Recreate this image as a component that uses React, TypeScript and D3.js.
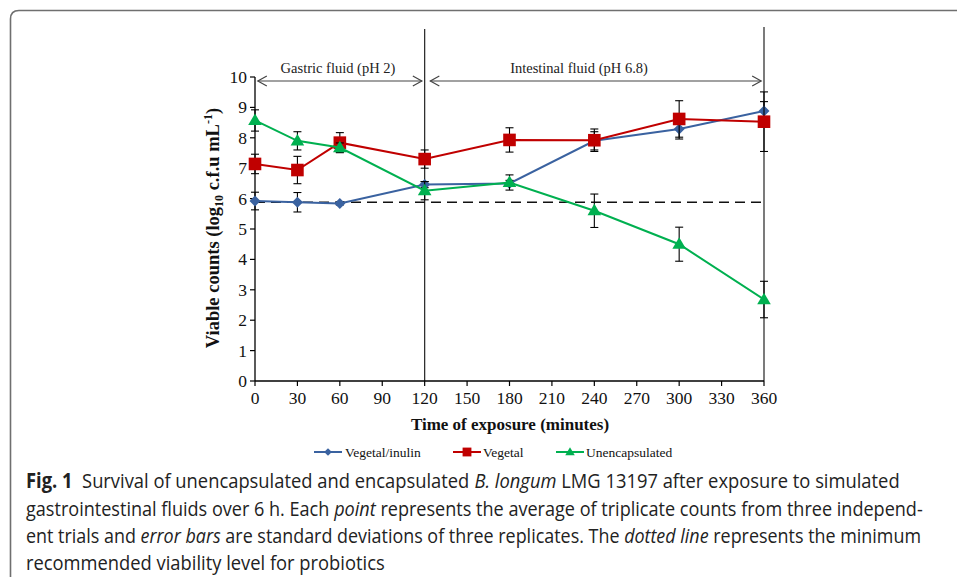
import React from "react";
import * as d3 from "d3";

const times = [0, 30, 60, 120, 180, 240, 300, 360];
const vegInulin = [5.92, 5.88, 5.84, 6.46, 6.5, 7.9, 8.29, 8.88];
const vegInulinSD = [0.29, 0.32, 0.05, 0.1, 0.1, 0.3, 0.33, 0.31];
const vegetal = [7.14, 6.94, 7.84, 7.3, 7.93, 7.92, 8.62, 8.53];
const vegetalSD = [0.32, 0.45, 0.33, 0.3, 0.4, 0.37, 0.6, 0.98];
const unencap = [8.57, 7.9, 7.68, 6.26, 6.53, 5.6, 4.5, 2.68];
const unencapSD = [0.35, 0.3, 0.15, 0.3, 0.25, 0.55, 0.56, 0.6];
const xTicks = [0, 30, 60, 90, 120, 150, 180, 210, 240, 270, 300, 330, 360];
const yTicks = [0, 1, 2, 3, 4, 5, 6, 7, 8, 9, 10];
const minLevel = 5.88;
const phaseBoundaries = [120, 360];
const seriesNames = ["Vegetal/inulin", "Vegetal", "Unencapsulated"];
const seriesColors = ["#3A62A0", "#C00000", "#00B050"];

// caption lines: segments [text, style] where style: n normal, b bold, i italic
const captionLines: [string, string][][] = [
  [["Fig. 1", "b"], ["  Survival of unencapsulated and encapsulated ", "n"], ["B. longum", "i"], [" LMG 13197 after exposure to simulated", "n"]],
  [["gastrointestinal fluids over 6 h. Each ", "n"], ["point", "i"], [" represents the average of triplicate counts from three independ-", "n"]],
  [["ent trials and ", "n"], ["error bars", "i"], [" are standard deviations of three replicates. The ", "n"], ["dotted line", "i"], [" represents the minimum", "n"]],
  [["recommended viability level for probiotics", "n"]],
];
const captionWidths = [874, 897, 895, 359];

const serif = "'Liberation Serif', 'DejaVu Serif', serif";
const sansName = "'Open Sans'";
const sans = "'Open Sans', 'Noto Sans', sans-serif";
const capSize = 20.5;

function marker(kind: string, cx: number, cy: number, color: string, s = 1) {
  if (kind === "diamond") {
    const r = 5.5 * s;
    return <path d={`M${cx},${cy - r}L${cx + r},${cy}L${cx},${cy + r}L${cx - r},${cy}Z`} fill={color} />;
  }
  if (kind === "square") {
    const r = 6.3 * s;
    return <rect x={cx - r} y={cy - r} width={2 * r} height={2 * r} fill={color} />;
  }
  const w = 6.8 * s, h = 11.5 * s;
  return <path d={`M${cx},${cy - h * 0.6}L${cx + w},${cy + h * 0.4}L${cx - w},${cy + h * 0.4}Z`} fill={color} />;
}

let ctx: CanvasRenderingContext2D | null = null;
function measure(text: string, style: string) {
  if (!ctx) ctx = document.createElement("canvas").getContext("2d");
  if (!ctx) return text.length * capSize * 0.5;
  const pre = style === "b" ? "bold " : style === "i" ? "italic " : "";
  ctx.font = `${pre}${capSize}px ${sansName}`;
  return ctx.measureText(text).width;
}

export default function App() {
  const x = d3.scaleLinear().domain([0, 360]).range([255, 764]);
  const y = d3.scaleLinear().domain([0, 10]).range([381, 77]);
  const line = d3.line<[number, number]>().x(d => x(d[0])).y(d => y(d[1]));
  const series = [
    { vals: vegInulin, sd: vegInulinSD, kind: "diamond" },
    { vals: vegetal, sd: vegetalSD, kind: "square" },
    { vals: unencap, sd: unencapSD, kind: "triangle" },
  ];
  const arrow = (x1: number, x2: number, yy: number) => (
    <g stroke="#444" strokeWidth={1.2} fill="none">
      <line x1={x1} y1={yy} x2={x2} y2={yy} />
      <path d={`M${x1 + 9},${yy - 5}L${x1},${yy}L${x1 + 9},${yy + 5}`} />
      <path d={`M${x2 - 9},${yy - 5}L${x2},${yy}L${x2 - 9},${yy + 5}`} />
    </g>
  );
  const legendItems = [
    { lx: 314, tx: 345 },
    { lx: 453, tx: 483 },
    { lx: 556, tx: 586 },
  ];
  const capY = [488, 516, 543, 570];
  return (
    <svg width={957} height={577} style={{ position: "absolute", left: 0, top: 0, display: "block", background: "#fff" }}>
      {/* frame */}
      <path d="M10.5,577 L10.5,19 Q10.5,10.5 19,10.5 L957,10.5" fill="none" stroke="#6f6f6f" strokeWidth={1.6} />

      {/* phase boundary lines */}
      {phaseBoundaries.map((t, i) => (
        <line key={i} x1={x(t)} x2={x(t)} y1={i === 0 ? 29 : 27} y2={381} stroke="#222" strokeWidth={1.2} />
      ))}
      {arrow(x(2), x(118), 81)}
      {arrow(x(124), x(358), 81)}
      <text x={338} y={73} fontFamily={serif} fontSize={14.5} textAnchor="middle" fill="#222">Gastric fluid (pH 2)</text>
      <text x={579} y={73} fontFamily={serif} fontSize={14.5} textAnchor="middle" fill="#222">Intestinal fluid (pH 6.8)</text>

      {/* axes */}
      <line x1={255} x2={255} y1={y(10)} y2={y(0)} stroke="#000" strokeWidth={1.3} />
      <line x1={255} x2={x(360)} y1={381} y2={381} stroke="#000" strokeWidth={1.3} />
      {yTicks.map(t => (
        <g key={t}>
          <line x1={250} x2={255} y1={y(t)} y2={y(t)} stroke="#000" strokeWidth={1.2} />
          <text x={247} y={y(t) + 6} fontFamily={serif} fontSize={17.5} textAnchor="end" fill="#111">{t}</text>
        </g>
      ))}
      {xTicks.map(t => (
        <g key={t}>
          <line x1={x(t)} x2={x(t)} y1={381} y2={386} stroke="#000" strokeWidth={1.2} />
          <text x={x(t)} y={404} fontFamily={serif} fontSize={17.5} textAnchor="middle" fill="#111">{t}</text>
        </g>
      ))}
      <text x={510} y={430} fontFamily={serif} fontSize={17} fontWeight="bold" textAnchor="middle" fill="#111">Time of exposure (minutes)</text>
      <text transform="translate(219,228) rotate(-90)" fontFamily={serif} fontSize={18.5} fontWeight="bold" textAnchor="middle" fill="#111">
        Viable counts (log<tspan fontSize={12} dy={4}>10</tspan><tspan dy={-4}> c.f.u mL</tspan><tspan fontSize={12} dy={-7}>-1</tspan><tspan dy={7}>)</tspan>
      </text>

      {/* minimum level */}
      <line x1={255} x2={x(360)} y1={y(minLevel)} y2={y(minLevel)} stroke="#111" strokeWidth={1.5} strokeDasharray="10,6" />

      {/* series */}
      {series.map((s, si) => {
        const pts = times.map((t, i) => [t, s.vals[i]] as [number, number]);
        return (
          <g key={si}>
            <path d={line(pts) || ""} fill="none" stroke={seriesColors[si]} strokeWidth={2} />
            {times.map((t, i) => {
              const cx = x(t);
              const top = y(s.vals[i] + s.sd[i]);
              const bot = y(s.vals[i] - s.sd[i]);
              return (
                <g key={i} stroke="#000" strokeWidth={1.1}>
                  <line x1={cx} x2={cx} y1={top} y2={bot} />
                  <line x1={cx - 4} x2={cx + 4} y1={top} y2={top} />
                  <line x1={cx - 4} x2={cx + 4} y1={bot} y2={bot} />
                </g>
              );
            })}
            {times.map((t, i) => (
              <g key={"m" + i}>{marker(s.kind, x(t), y(s.vals[i]), seriesColors[si])}</g>
            ))}
          </g>
        );
      })}

      {/* legend */}
      {legendItems.map((it, i) => (
        <g key={i}>
          <line x1={it.lx} x2={it.lx + 28} y1={452} y2={452} stroke={seriesColors[i]} strokeWidth={2} />
          {marker(series[i].kind, it.lx + 14, 452, seriesColors[i], 0.7)}
          <text x={it.tx} y={457} fontFamily={serif} fontSize={13.5} fill="#111">{seriesNames[i]}</text>
        </g>
      ))}

      {/* caption */}
      {captionLines.map((segs, li) => {
        const widths = segs.map(([t, st]) => measure(t, st));
        const total = widths.reduce((a, b) => a + b, 0);
        const sx = captionWidths[li] / total;
        let acc = 0;
        return (
          <g key={li} transform={`translate(26,${capY[li]}) scale(${sx},1)`} fontFamily={sans} fontSize={capSize} fill="#222">
            {segs.map(([t, st], si) => {
              const el = (
                <text key={si} x={acc} y={0} xmlSpace="preserve" style={{ whiteSpace: "pre" }}
                  fontWeight={st === "b" ? "bold" : "normal"} fontStyle={st === "i" ? "italic" : "normal"}>{t}</text>
              );
              acc += widths[si];
              return el;
            })}
          </g>
        );
      })}
    </svg>
  );
}
